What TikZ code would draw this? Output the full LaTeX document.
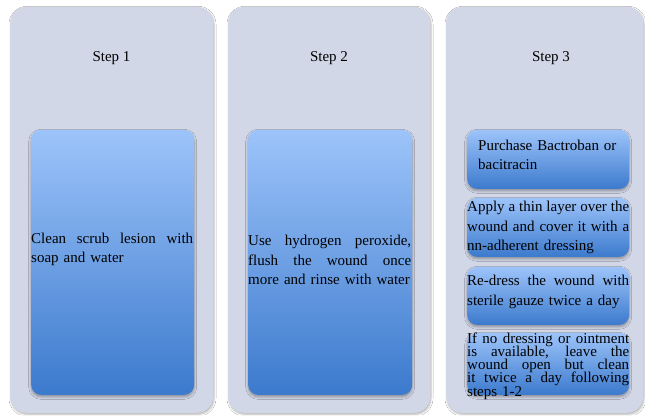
\documentclass[tikz,border=0pt]{standalone}
\usepackage{fontspec}
\setmainfont{Liberation Serif}
\usetikzlibrary{shadows.blur}
\definecolor{panelfill}{RGB}{210,215,231}
\definecolor{boxtop}{RGB}{157,196,250}
\definecolor{boxbot}{RGB}{60,122,205}
\newcommand\jline[2][162pt]{\noindent\hbox to #1{\spaceskip=.25em plus 1fil\relax #2}}
\newcommand\tightlines{\lineskiplimit=-20pt\relax\lineskip=0pt\relax}
\begin{document}
\begin{tikzpicture}[x=1pt,y=1pt,
  panel/.style={fill=panelfill, rounded corners=16pt, inner sep=0pt, anchor=south west,
    blur shadow={shadow xshift=0.8pt, shadow yshift=-1.5pt, shadow blur radius=2pt, shadow opacity=30}},
  stepbox/.style={top color=boxtop, bottom color=boxbot, rounded corners=10pt, inner sep=0pt, anchor=south west,
    blur shadow={shadow xshift=0pt, shadow yshift=-2pt, shadow blur radius=2.5pt, shadow opacity=35}},
  steplabel/.style={font=\fontsize{15}{18}\selectfont, inner sep=0pt},
  body/.style={font=\fontsize{15}{19.5}\selectfont, inner sep=0pt, align=left, text width=162pt},
  tight/.style={font=\fontsize{15}{13}\selectfont, inner sep=0pt, align=left, text width=162pt},
]
\useasboundingbox (0,0) rectangle (645,415);
\fill[white] (0,0) rectangle (645,415);

% panels
\node[panel, minimum width=203pt, minimum height=406pt] (p1) at (10,2) {};
\node[panel, minimum width=202pt, minimum height=406pt] (p2) at (228,2) {};
\node[panel, minimum width=197pt, minimum height=406pt] (p3) at (446,2) {};

% step labels
\node[steplabel] (s1) at (111.5,357) {Step 1};
\node[steplabel] (s2) at (329,357) {Step 2};
\node[steplabel] (s3) at (551,357) {Step 3};

% inner boxes
\node[stepbox, minimum width=163pt, minimum height=265pt] (b1) at (31,20) {};
\node[stepbox, minimum width=164pt, minimum height=265pt] (b2) at (248,20) {};
\node[stepbox, minimum width=162pt, minimum height=59pt] (ba) at (467,226) {};
\node[stepbox, minimum width=162pt, minimum height=59pt] (bb) at (467,158) {};
\node[stepbox, minimum width=162pt, minimum height=58pt] (bc) at (467,90) {};
\node[stepbox, minimum width=162pt, minimum height=62pt] (bd) at (467,20) {};

% texts
\node[body, anchor=west] (t1) at (31,165.5) {\jline{Clean scrub lesion with}\\soap and water};
\node[body, anchor=west, text width=163pt] (t2) at (248,155) {\jline[163pt]{Use hydrogen peroxide,}\\\jline[163pt]{flush the wound once}\\more and rinse with water};
\node[body, anchor=west, text width=145pt] (ta) at (478,260) {Purchase Bactroban or\\bacitracin};
\node[body, anchor=west] (tb) at (467,187.5) {\jline{Apply a thin layer over the}\\\jline{wound and cover it with a}\\nn-adherent dressing};
\node[body, anchor=west] (tc) at (467,123) {\jline{Re-dress the wound with}\\sterile gauze twice a day};
\node[tight, anchor=west] (td) at (467,49) {\tightlines\jline{If no dressing or ointment}\\\jline{is available, leave the}\\\jline{wound open but clean}\\\jline{it twice a day following}\\steps 1-2};
\end{tikzpicture}
\end{document}
